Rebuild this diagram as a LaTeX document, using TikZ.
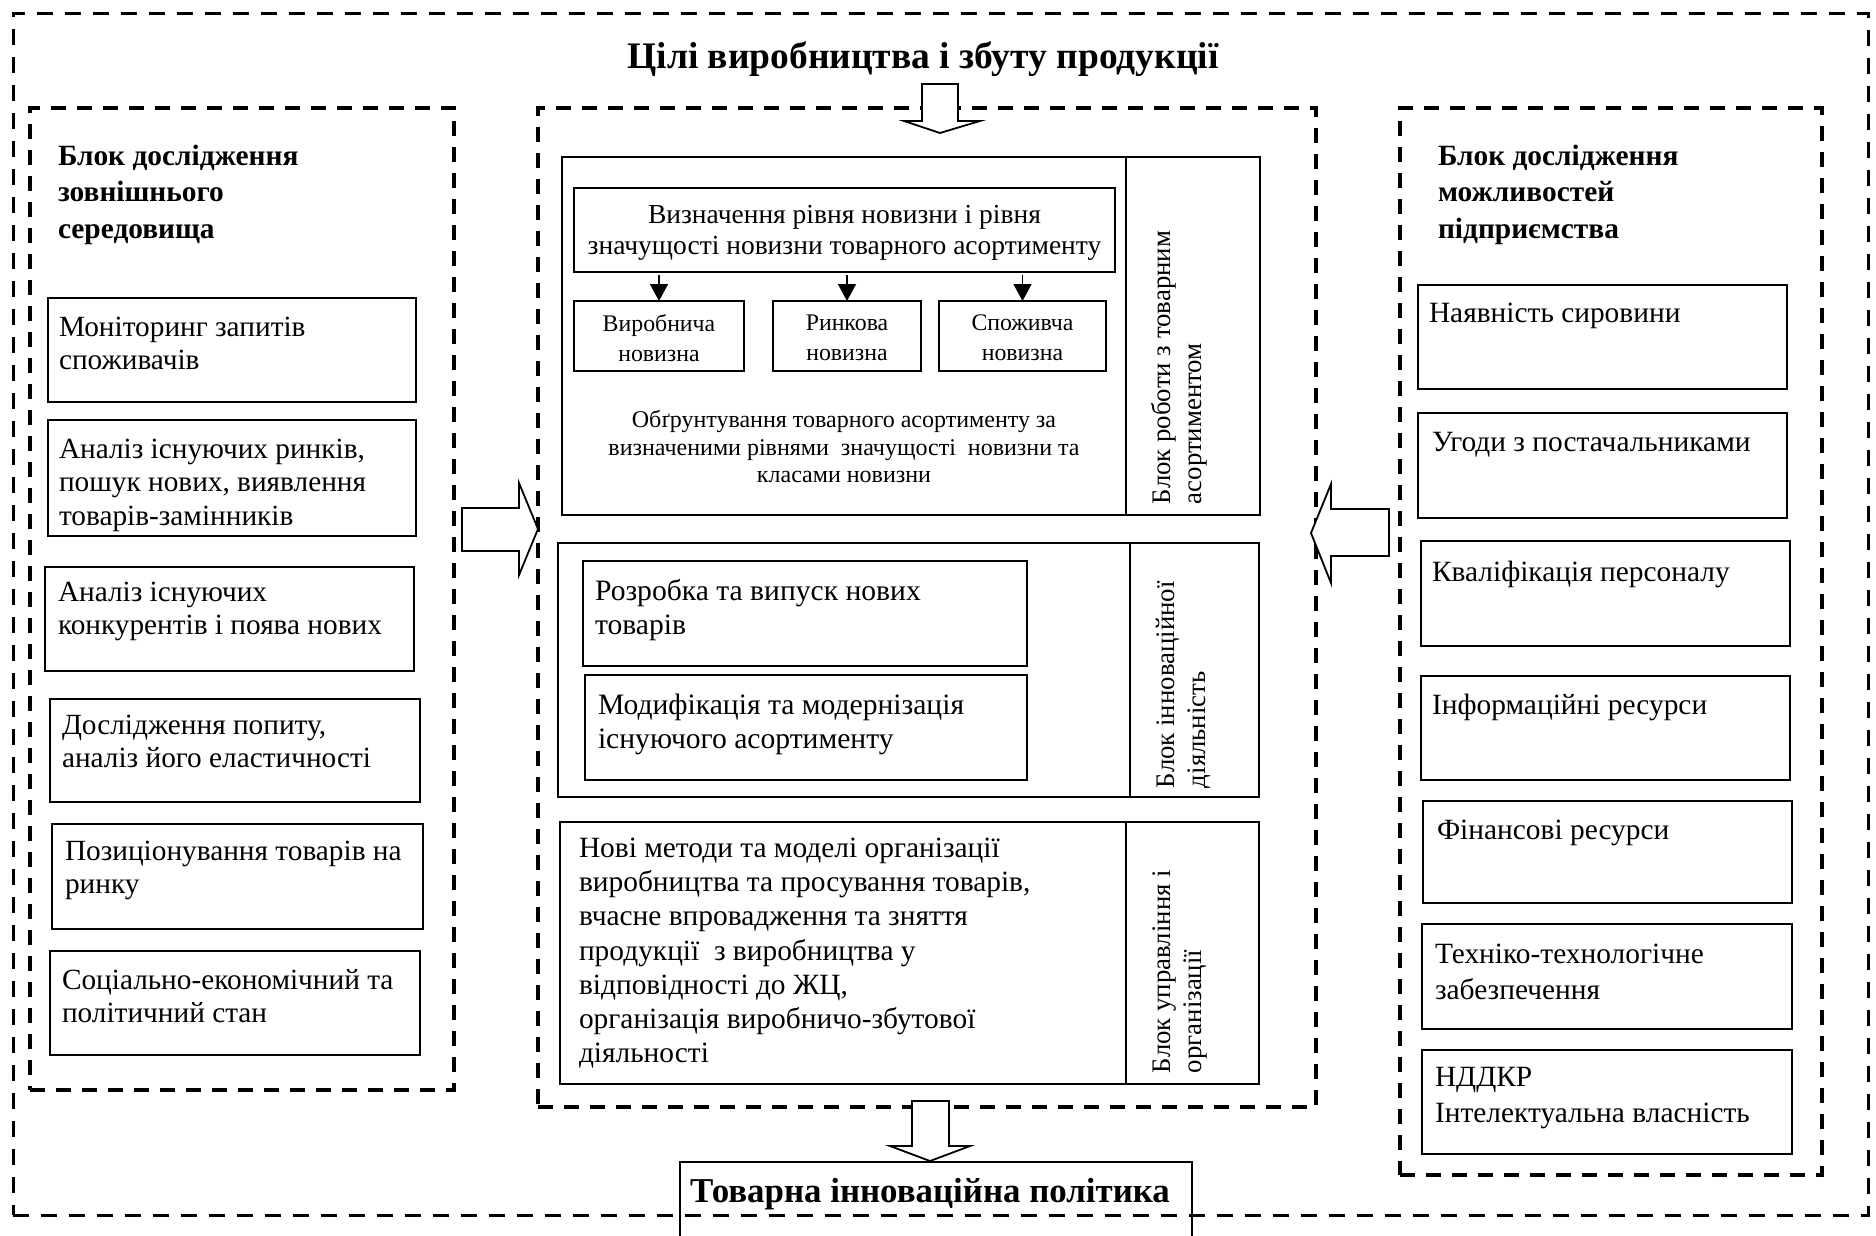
\documentclass[tikz,border=0pt]{standalone}
\usepackage{fontspec}
\usepackage{graphicx}
\setmainfont{Liberation Serif}
\usetikzlibrary{arrows.meta}
\tikzset{
  solidbox/.style={draw, line width=2pt, inner sep=0pt, outer sep=0pt, anchor=north west},
  dashbox/.style={draw, line width=3.5pt, dash pattern=on 15pt off 11pt, inner sep=0pt, outer sep=0pt, anchor=north west},
  outerdash/.style={draw, line width=3pt, dash pattern=on 16pt off 12pt, inner sep=0pt, outer sep=0pt, anchor=north west},
  txt/.style={inner sep=0pt, outer sep=0pt, align=left, anchor=north west},
  ltxt/.style={txt, font=\fontsize{29.3}{33.5}\selectfont},
  rtxt/.style={txt, font=\fontsize{29.4}{36}\selectfont},
  ctxt/.style={txt, font=\fontsize{29.6}{34}\selectfont},
  head/.style={txt, font=\bfseries\fontsize{29.4}{36.5}\selectfont},
  rotlab/.style={inner sep=0pt, outer sep=0pt, rotate=90, anchor=north west, font=\fontsize{26.8}{31}\selectfont},
  blockarrow/.style={draw, fill=white, line width=1.8pt, line join=miter},
  thinarrow/.style={line width=1.5pt, -{Triangle[width=18pt,length=17pt]}},
}
\newcommand\rbox[5]{\node[solidbox, minimum width={#3-#1}, minimum height={#4-#2}] (#5) at (#1,#2) {};}
\newcommand\dbox[6]{\node[#6, minimum width={#3-#1}, minimum height={#4-#2}] (#5) at (#1,#2) {};}
\newcommand\rotl[1]{\begin{tabular}{@{}l@{}}#1\end{tabular}}
\begin{document}
\begin{tikzpicture}[x=1pt,y=-1pt]
\fill[white] (0,0) rectangle (1876,1235);
\useasboundingbox (0,0) rectangle (1876,1235);

% outer and block frames
\dbox{13}{13}{1868}{1215}{outer}{outerdash}
\dbox{30}{108}{454}{1090}{leftblock}{dashbox}
\dbox{538}{108}{1316}{1107}{centerblock}{dashbox}
\dbox{1400}{108}{1822}{1175}{rightblock}{dashbox}

% title
\node[inner sep=0pt, anchor=base, font=\bfseries\fontsize{37.5}{44}\selectfont] (title) at (923,68) {Цілі виробництва і збуту продукції};

% headers
\node[head] (lhead) at (58,145) {Блок дослідження\\зовнішнього\\середовища};
\node[head] (rhead) at (1438,145) {Блок дослідження\\можливостей\\підприємства};

% left boxes
\rbox{48}{298}{416}{402}{L1}
\rbox{48}{420}{416}{536}{L2}
\rbox{45}{567}{414}{671}{L3}
\rbox{50}{699}{420}{802}{L4}
\rbox{52}{824}{423}{929}{L5}
\rbox{50}{951}{420}{1055}{L6}
\node[ltxt] (L1t) at (59,317) {Моніторинг запитів\\споживачів};
\node[ltxt] (L2t) at (59,439) {Аналіз існуючих ринків,\\пошук нових, виявлення\\товарів-замінників};
\node[ltxt] (L3t) at (58,582) {Аналіз існуючих\\конкурентів і поява нових};
\node[ltxt] (L4t) at (62,715) {Дослідження попиту,\\аналіз його еластичності};
\node[ltxt] (L5t) at (65,841) {Позиціонування товарів на\\ринку};
\node[ltxt] (L6t) at (62,969) {Соціально-економічний та\\політичний стан};

% right boxes
\rbox{1418}{285}{1787}{389}{R1}
\rbox{1418}{413}{1787}{518}{R2}
\rbox{1421}{541}{1790}{646}{R3}
\rbox{1421}{676}{1790}{780}{R4}
\rbox{1423}{801}{1792}{903}{R5}
\rbox{1422}{924}{1792}{1029}{R6}
\rbox{1422}{1050}{1792}{1154}{R7}
\node[rtxt] (R1t) at (1429,303) {Наявність сировини};
\node[rtxt] (R2t) at (1432,432) {Угоди з постачальниками};
\node[rtxt] (R3t) at (1432,561) {Кваліфікація персоналу};
\node[rtxt] (R4t) at (1432,694) {Інформаційні ресурси};
\node[rtxt] (R5t) at (1437,820) {Фінансові ресурси};
\node[rtxt] (R6t) at (1435,944) {Техніко-технологічне\\забезпечення};
\node[rtxt] (R7t) at (1435,1067) {НДДКР\\Інтелектуальна власність};

% center section 1
\rbox{562}{157}{1126}{515}{S1}
\rbox{1126}{157}{1260}{515}{S1lab}
\rbox{574}{188}{1115}{272}{vyzn}
\rbox{574}{301}{744}{371}{v1}
\rbox{773}{301}{921}{371}{v2}
\rbox{939}{301}{1106}{371}{v3}
\node[inner sep=0pt, align=center, font=\fontsize{27.5}{31}\selectfont] (vyznt) at ([yshift=-3pt]vyzn.center) {Визначення рівня новизни і рівня\\значущості новизни товарного асортименту};
\node[inner sep=0pt, align=center, font=\fontsize{23.8}{30}\selectfont] (v1t) at ([yshift=-2pt]v1.center) {Виробнича\\новизна};
\node[inner sep=0pt, align=center, font=\fontsize{23.8}{30}\selectfont] (v2t) at ([yshift=-2pt]v2.center) {Ринкова\\новизна};
\node[inner sep=0pt, align=center, font=\fontsize{23.8}{30}\selectfont] (v3t) at ([yshift=-2pt]v3.center) {Споживча\\новизна};
\draw[thinarrow] (v1.north |- vyzn.south) ++(0,3) -- (v1.north);
\draw[thinarrow] (v2.north |- vyzn.south) ++(0,3) -- (v2.north);
\draw[thinarrow] (v3.north |- vyzn.south) ++(0,3) -- (v3.north);
\node[inner sep=0pt, align=center, font=\fontsize{24}{27.5}\selectfont] (obgr) at (844,447) {Обґрунтування товарного асортименту за\\визначеними рівнями\ \ значущості\ \ новизни та\\класами новизни};
\node[rotlab] (S1labt) at (1149,504) {\rotl{Блок роботи з товарним\\асортиментом}};

% center section 2
\rbox{558}{543}{1130}{797}{S2}
\rbox{1130}{543}{1259}{797}{S2lab}
\rbox{583}{561}{1027}{666}{m1}
\rbox{585}{675}{1027}{780}{m2}
\node[ctxt] (m1t) at (595,579) {Розробка та випуск нових\\товарів};
\node[ctxt] (m2t) at (598,694) {Модифікація та модернізація\\існуючого асортименту};
\node[rotlab] (S2labt) at (1153,788) {\rotl{Блок інноваційної\\діяльність}};

% center section 3
\rbox{560}{822}{1126}{1084}{S3}
\rbox{1126}{822}{1259}{1084}{S3lab}
\node[txt, font=\fontsize{29.4}{34.2}\selectfont] (S3t) at (579,838) {Нові методи та моделі організації\\виробництва та просування товарів,\\вчасне впровадження та зняття\\продукції\ \ з виробництва у\\відповідності до ЖЦ,\\організація виробничо-збутової\\діяльності};
\node[rotlab] (S3labt) at (1149,1073) {\rotl{Блок управління і\\організації}};

% bottom result box
\rbox{680}{1162}{1192}{1250}{result}
\node[inner sep=0pt, anchor=base, font=\bfseries\fontsize{34.9}{40}\selectfont] (resultt) at (930,1202) {Товарна інноваційна політика};

% block arrows
\draw[blockarrow] (922,84) -- (958,84) -- (958,121) -- (980,121) -- (940,133) -- (904,121) -- (922,121) -- cycle;
\draw[blockarrow] (912,1101) -- (949,1101) -- (949,1146) -- (970,1146) -- (930,1161) -- (890,1146) -- (912,1146) -- cycle;
\draw[blockarrow] (462,508) -- (519,508) -- (519,483) -- (538,529) -- (519,575) -- (519,551) -- (462,551) -- cycle;
\draw[blockarrow] (1389,509) -- (1331,509) -- (1331,484) -- (1311,533) -- (1331,583) -- (1331,556) -- (1389,556) -- cycle;
\end{tikzpicture}
\end{document}
